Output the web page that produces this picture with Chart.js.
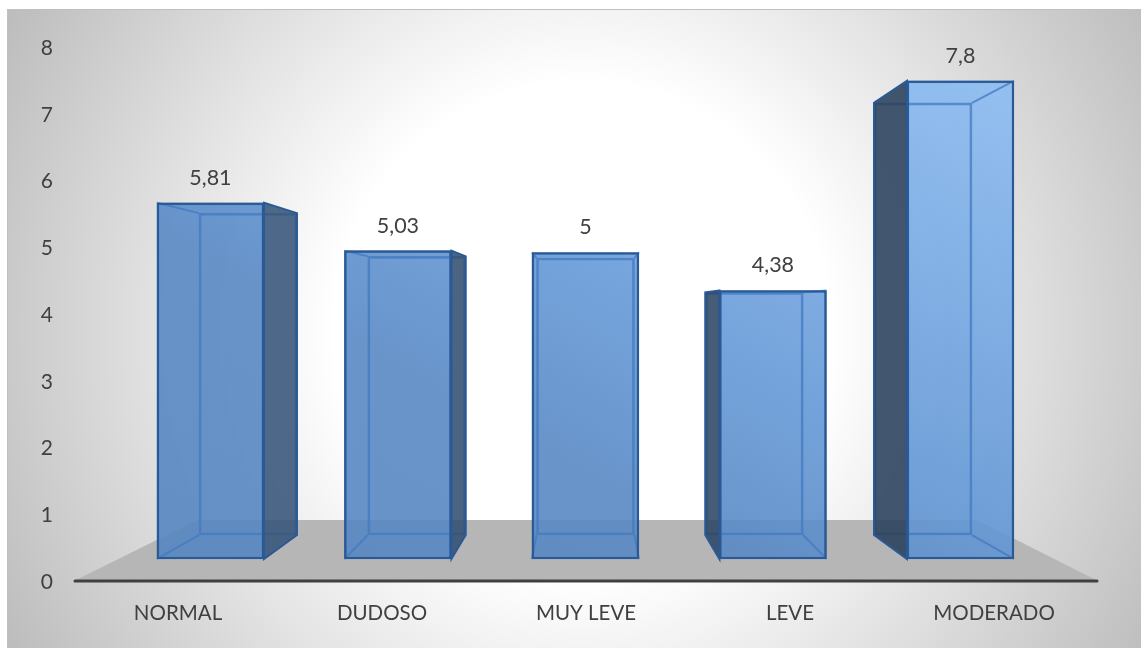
<!DOCTYPE html>
<html>
<head>
<meta charset="utf-8">
<title>Chart</title>
<script src="https://cdn.jsdelivr.net/npm/chart.js@4"></script>
<style>
    html, body { margin: 0; padding: 0; background: #fff; width: 1141px; height: 648px; overflow: hidden; }
    #frame {
        position: absolute; left: 7px; top: 9px; width: 1134px; height: 639px; box-sizing: border-box;
        border-left: 1px solid #c0c0c0; border-top: 1px solid #c0c0c0;
        background: radial-gradient(circle 652px at 574px 320px, #fff 0%, #fff 38%, #bdbdbd 100%);
    }
    canvas { position: absolute; left: 0; top: 0; }
</style>
</head>
<body>
<div id="frame"></div>
<canvas id="barChart" width="1141" height="648"></canvas>
<script>
const categories = ['NORMAL', 'DUDOSO', 'MUY LEVE', 'LEVE', 'MODERADO'];
const values = [5.81, 5.03, 5, 4.38, 7.8];
const yTicks = [0, 1, 2, 3, 4, 5, 6, 7, 8];

const fontFamily = "Lato, 'Open Sans', sans-serif";
const textColor = '#404040';
const frontLine = '#2a5a96';
const backLine = 'rgba(66, 122, 192, 0.75)';

const points = values.map((v, i) => ({ x: i, y: v }));

// faces of the box and the floor, the bars themselves come from the two datasets
const box3d = {
    id: 'box3d',
    beforeDatasetsDraw(chart) {
        const { ctx, chartArea: a } = chart;
        // floor
        ctx.save();
        ctx.fillStyle = '#b6b6b6';
        ctx.beginPath();
        ctx.moveTo(a.left - 2, a.bottom);
        ctx.lineTo(a.left + 121, a.bottom - 61);
        ctx.lineTo(a.right - 119, a.bottom - 61);
        ctx.lineTo(a.right + 2, a.bottom);
        ctx.closePath();
        ctx.fill();
        // axis line
        ctx.strokeStyle = '#404040';
        ctx.lineWidth = 3;
        ctx.lineCap = 'round';
        ctx.beginPath();
        ctx.moveTo(a.left - 1, a.bottom);
        ctx.lineTo(a.right + 1, a.bottom);
        ctx.stroke();
        ctx.restore();
    },
    afterDatasetsDraw(chart) {
        const { ctx, chartArea: a } = chart;
        const front = chart.getDatasetMeta(0).data;
        const back = chart.getDatasetMeta(1).data;
        const sideFill = ctx.createLinearGradient(a.left, 0, a.right, 0);
        sideFill.addColorStop(0, 'rgba(58, 92, 132, 0.88)');
        sideFill.addColorStop(1, 'rgba(36, 56, 82, 0.88)');
        ctx.save();
        front.forEach((f, i) => {
            const b = back[i];
            const fl = f.x - f.width / 2, fr = f.x + f.width / 2;
            const bl = b.x - b.width / 2, br = b.x + b.width / 2;
            const side = (fx, bx) => {
                ctx.fillStyle = sideFill;
                ctx.strokeStyle = frontLine;
                ctx.lineWidth = 2;
                ctx.beginPath();
                ctx.moveTo(fx, f.y);
                ctx.lineTo(bx, b.y);
                ctx.lineTo(bx, b.base);
                ctx.lineTo(fx, f.base);
                ctx.closePath();
                ctx.fill();
                ctx.stroke();
            };
            if (br > fr) side(fr, br);
            if (bl < fl) side(fl, bl);

            // depth edges that fall inside the front face
            ctx.strokeStyle = backLine;
            ctx.lineWidth = 2;
            [[fl, bl], [fr, br]].forEach(([fx, bx]) => {
                if (bx < fl || bx > fr) return;
                ctx.beginPath();
                ctx.moveTo(fx, f.y);
                ctx.lineTo(bx, b.y);
                ctx.moveTo(fx, f.base);
                ctx.lineTo(bx, b.base);
                ctx.stroke();
            });

            // front edges go back on top of the back plane lines
            ctx.strokeStyle = frontLine;
            ctx.lineWidth = 2;
            ctx.strokeRect(fl + 1, f.y + 1, f.width - 2, f.base - f.y - 2);

            // value label
            ctx.fillStyle = textColor;
            ctx.font = '21.5px ' + fontFamily;
            ctx.textAlign = 'center';
            ctx.textBaseline = 'middle';
            ctx.fillText(String(values[i]).replace('.', ','), f.x, f.y - 25);
        });
        ctx.restore();
    }
};

const frontFill = (context) => {
    const { ctx, chartArea: a } = context.chart;
    if (!a) return '#6590c4';
    const g = ctx.createLinearGradient(a.left + 80, a.bottom - 22, a.left + 487, a.bottom - 751);
    g.addColorStop(0, 'rgba(85, 134, 192, 0.9)');
    g.addColorStop(0.35, 'rgba(88, 137, 197, 0.9)');
    g.addColorStop(0.55, 'rgba(101, 153, 215, 0.9)');
    g.addColorStop(1, 'rgba(140, 188, 243, 0.9)');
    return g;
};

new Chart(document.getElementById('barChart'), {
    type: 'bar',
    data: {
        labels: categories,
        datasets: [
            {
                label: 'front',
                data: points,
                xAxisID: 'xFront',
                yAxisID: 'yFront',
                grouped: false,
                barPercentage: 1,
                categoryPercentage: 1,
                maxBarThickness: 107,
                backgroundColor: frontFill,
                borderColor: frontLine,
                borderWidth: 2,
                borderSkipped: false,
                order: 1
            },
            {
                label: 'back',
                data: points,
                xAxisID: 'xBack',
                yAxisID: 'yBack',
                grouped: false,
                barPercentage: 1,
                categoryPercentage: 1,
                maxBarThickness: 98,
                backgroundColor: 'rgba(0, 0, 0, 0)',
                borderColor: backLine,
                borderWidth: 2,
                borderSkipped: false,
                order: 0
            }
        ]
    },
    options: {
        responsive: false,
        animation: false,
        layout: { padding: { left: 0, right: 45, top: 47, bottom: 0 } },
        plugins: { legend: { display: false }, tooltip: { enabled: false } },
        scales: {
            x: {
                type: 'category',
                position: 'bottom',
                offset: true,
                afterFit: (scale) => { scale.height = 67; },
                grid: { display: false, drawTicks: false },
                border: { display: false },
                ticks: {
                    color: textColor,
                    font: { family: fontFamily, size: 20.5 },
                    padding: 20,
                    maxRotation: 0,
                    autoSkip: false
                }
            },
            y: {
                type: 'linear',
                position: 'left',
                min: yTicks[0],
                max: yTicks[yTicks.length - 1],
                afterFit: (scale) => { scale.width = 76; },
                afterBuildTicks: (scale) => { scale.ticks = yTicks.map((v) => ({ value: v })); },
                grid: { display: false, drawTicks: false },
                border: { display: false },
                ticks: {
                    color: textColor,
                    font: { family: fontFamily, size: 21 },
                    padding: 23,
                    labelOffset: 1
                }
            },
            // perspective: front and back planes of the boxes have their own scales
            xFront: { type: 'linear', position: 'bottom', display: false, offset: false, min: -0.717, max: 4.723 },
            yFront: { type: 'linear', position: 'left', display: false, min: -0.359, max: 8.352 },
            xBack: { type: 'linear', position: 'bottom', display: false, offset: false, min: -1.019, max: 5.025 },
            yBack: { type: 'linear', position: 'left', display: false, min: -0.83, max: 8.809 }
        }
    },
    plugins: [box3d]
});
</script>
</body>
</html>
